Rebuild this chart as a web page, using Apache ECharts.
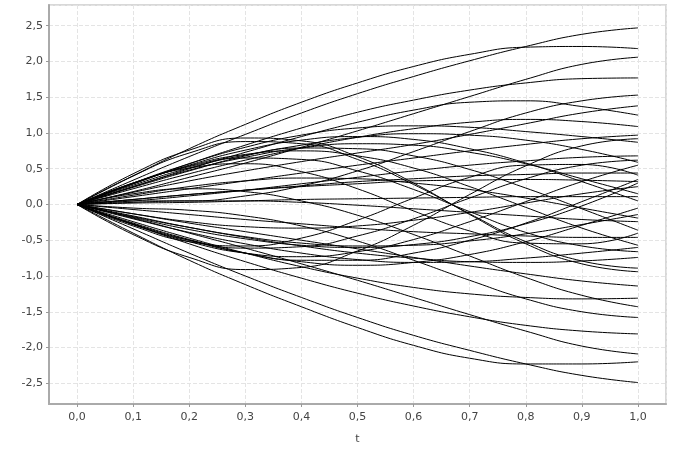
<!DOCTYPE html>
<html>
<head>
<meta charset="utf-8">
<script src="https://cdn.jsdelivr.net/npm/echarts@6/dist/echarts.min.js"></script>
<style>
html,body{margin:0;padding:0;background:#fff;}
#main{width:674px;height:450px;}
</style>
</head>
<body>
<div id="main"></div>
<script>
// time points of every path
var tValues = [0, 0.1, 0.2, 0.3, 0.4, 0.5, 0.6, 0.7, 0.8, 0.9, 1.0];

// paths, one array per curve
var p01 = [0, 0.34, 0.67, 0.98, 1.28, 1.55, 1.79, 2.01, 2.21, 2.38, 2.47];
var p02 = [0, 0.40, 0.78, 1.12, 1.43, 1.70, 1.93, 2.10, 2.20, 2.21, 2.18];
var p03 = [0, 0.18, 0.38, 0.58, 0.80, 1.03, 1.27, 1.51, 1.75, 1.96, 2.06];
var p04 = [0, 0.29, 0.57, 0.83, 1.07, 1.29, 1.46, 1.60, 1.70, 1.76, 1.77];
var p05 = [0, 0.05, 0.05, 0.12, 0.26, 0.47, 0.74, 1.02, 1.28, 1.45, 1.53];
var p06 = [0, 0.17, 0.33, 0.47, 0.60, 0.72, 0.84, 0.98, 1.13, 1.28, 1.38];
var p07 = [0, 0.25, 0.50, 0.73, 0.95, 1.15, 1.32, 1.43, 1.45, 1.37, 1.25];
var p08 = [0, 0.22, 0.43, 0.62, 0.79, 0.94, 1.06, 1.15, 1.19, 1.16, 1.09];
var p09 = [0, 0.11, 0.22, 0.33, 0.44, 0.55, 0.65, 0.75, 0.84, 0.92, 0.97];
var p10 = [0, -0.42, -0.74, -0.91, -0.88, -0.65, -0.29, 0.14, 0.54, 0.82, 0.92];
var p11 = [0, 0.30, 0.57, 0.80, 0.97, 1.07, 1.10, 1.08, 1.02, 0.95, 0.87];
var p12 = [0, 0.05, 0.12, 0.20, 0.29, 0.38, 0.47, 0.55, 0.61, 0.66, 0.68];
var p13 = [0, -0.28, -0.50, -0.61, -0.59, -0.44, -0.20, 0.09, 0.36, 0.55, 0.62];
var p14 = [0, 0.24, 0.47, 0.68, 0.83, 0.94, 0.99, 0.97, 0.90, 0.77, 0.59];
var p15 = [0, 0.07, 0.14, 0.20, 0.26, 0.32, 0.36, 0.40, 0.42, 0.44, 0.44];
var p16 = [0, -0.30, -0.52, -0.58, -0.47, -0.22, 0.09, 0.38, 0.55, 0.56, 0.41];
var p17 = [0, -0.27, -0.50, -0.68, -0.78, -0.78, -0.68, -0.50, -0.26, 0.04, 0.35];
var p18 = [0, 0.07, 0.14, 0.20, 0.25, 0.29, 0.33, 0.34, 0.35, 0.34, 0.32];
var p19 = [0, -0.13, -0.24, -0.31, -0.33, -0.30, -0.22, -0.11, 0.02, 0.15, 0.25];
var p20 = [0, 0.25, 0.48, 0.66, 0.79, 0.85, 0.83, 0.73, 0.57, 0.36, 0.15];
var p21 = [0, 0.02, 0.03, 0.05, 0.07, 0.08, 0.09, 0.10, 0.11, 0.11, 0.11];
var p22 = [0, 0.29, 0.55, 0.76, 0.90, 0.95, 0.91, 0.78, 0.58, 0.32, 0.05];
var p23 = [0, -0.18, -0.35, -0.48, -0.57, -0.60, -0.56, -0.45, -0.27, -0.02, 0.30];
var p24 = [0, -0.28, -0.52, -0.68, -0.73, -0.66, -0.49, -0.24, 0.04, 0.32, 0.55];
var n01 = [0, -0.26, -0.49, -0.68, -0.80, -0.85, -0.81, -0.70, -0.52, -0.29, -0.05];
var n02 = [0, -0.17, -0.32, -0.45, -0.54, -0.58, -0.57, -0.51, -0.41, -0.28, -0.14];
var n03 = [0, 0.03, 0.05, 0.05, 0.03, -0.01, -0.06, -0.11, -0.16, -0.21, -0.24];
var n04 = [0, 0.27, 0.51, 0.69, 0.79, 0.78, 0.68, 0.49, 0.23, -0.06, -0.36];
var n05 = [0, 0.30, 0.51, 0.57, 0.46, 0.22, -0.09, -0.37, -0.54, -0.55, -0.40];
var n06 = [0, -0.07, -0.14, -0.21, -0.27, -0.33, -0.38, -0.41, -0.44, -0.46, -0.46];
var n07 = [0, -0.20, -0.39, -0.55, -0.68, -0.77, -0.81, -0.80, -0.75, -0.68, -0.60];
var n08 = [0, 0.30, 0.53, 0.65, 0.63, 0.47, 0.21, -0.10, -0.39, -0.58, -0.66];
var n09 = [0, -0.16, -0.32, -0.46, -0.58, -0.68, -0.75, -0.80, -0.81, -0.79, -0.74];
var n10 = [0, 0.40, 0.72, 0.88, 0.85, 0.63, 0.28, -0.13, -0.52, -0.79, -0.89];
var n11 = [0, 0.43, 0.76, 0.93, 0.89, 0.67, 0.30, -0.14, -0.55, -0.83, -0.94];
var n12 = [0, -0.13, -0.26, -0.38, -0.50, -0.62, -0.74, -0.86, -0.97, -1.07, -1.14];
var n13 = [0, -0.24, -0.47, -0.68, -0.87, -1.03, -1.16, -1.25, -1.30, -1.32, -1.31];
var n14 = [0, 0.15, 0.22, 0.18, 0.05, -0.15, -0.42, -0.72, -1.02, -1.27, -1.43];
var n15 = [0, -0.05, -0.08, -0.16, -0.30, -0.51, -0.78, -1.06, -1.32, -1.50, -1.58];
var n16 = [0, -0.28, -0.55, -0.80, -1.03, -1.24, -1.42, -1.57, -1.69, -1.77, -1.81];
var n17 = [0, -0.19, -0.40, -0.61, -0.83, -1.06, -1.30, -1.54, -1.77, -1.98, -2.09];
var n18 = [0, -0.40, -0.78, -1.12, -1.43, -1.72, -1.97, -2.15, -2.23, -2.23, -2.20];
var n19 = [0, -0.34, -0.68, -1.00, -1.30, -1.58, -1.83, -2.04, -2.23, -2.39, -2.49];
var n20 = [0, 0.13, 0.25, 0.33, 0.37, 0.36, 0.30, 0.21, 0.09, -0.05, -0.19];
var n21 = [0, 0.29, 0.54, 0.70, 0.75, 0.68, 0.51, 0.25, -0.04, -0.33, -0.57];

var paths = [p01, p02, p03, p04, p05, p06, p07, p08, p09, p10, p11, p12, p13, p14, p15, p16,
  p17, p18, p19, p20, p21, p22, p23, p24, n01, n02, n03, n04, n05, n06, n07, n08, n09, n10,
  n11, n12, n13, n14, n15, n16, n17, n18, n19, n20, n21];

function comma(v){
  return v.toFixed(1).replace('.', ',');
}

var series = paths.map(function(arr, i){
  return {
    type: 'line',
    name: 'path' + (i + 1),
    data: arr.map(function(v, k){ return [tValues[k], v]; }),
    smooth: true,
    showSymbol: false,
    symbol: 'none',
    lineStyle: { color: '#000', width: 1 },
    silent: true
  };
});

var myChart = echarts.init(document.getElementById('main'));
var option = {
  animation: false,
  grid: {
    left: 49, right: 8, top: 5, bottom: 43,
    show: true,
    borderColor: '#d8d8d8',
    borderWidth: 2
  },
  xAxis: {
    type: 'value',
    min: -0.05,
    max: 1.05,
    splitNumber: 11,
    name: 't',
    nameLocation: 'middle',
    nameGap: 30,
    nameTextStyle: { color: '#444', fontSize: 11, fontFamily: 'DejaVu Sans' },
    axisLine: { show: true, onZero: false, lineStyle: { color: '#aaa', width: 2 } },
    axisTick: { show: true, length: 3, lineStyle: { color: '#999' } },
    axisLabel: {
      color: '#444', fontSize: 11, fontFamily: 'DejaVu Sans', margin: 8,
      showMinLabel: false, showMaxLabel: false,
      formatter: comma
    },
    splitLine: { show: true, lineStyle: { color: '#e4e4e4', type: 'dashed' } }
  },
  yAxis: {
    type: 'value',
    min: -2.79,
    max: 2.79,
    splitNumber: 11,
    axisLine: { show: true, onZero: false, lineStyle: { color: '#aaa', width: 2 } },
    axisTick: { show: true, length: 3, lineStyle: { color: '#999' } },
    axisLabel: {
      color: '#444', fontSize: 11, fontFamily: 'DejaVu Sans', margin: 6,
      showMinLabel: false, showMaxLabel: false,
      formatter: comma
    },
    splitLine: { show: true, lineStyle: { color: '#e4e4e4', type: 'dashed' } }
  },
  series: series
};
myChart.setOption(option);
</script>
</body>
</html>
